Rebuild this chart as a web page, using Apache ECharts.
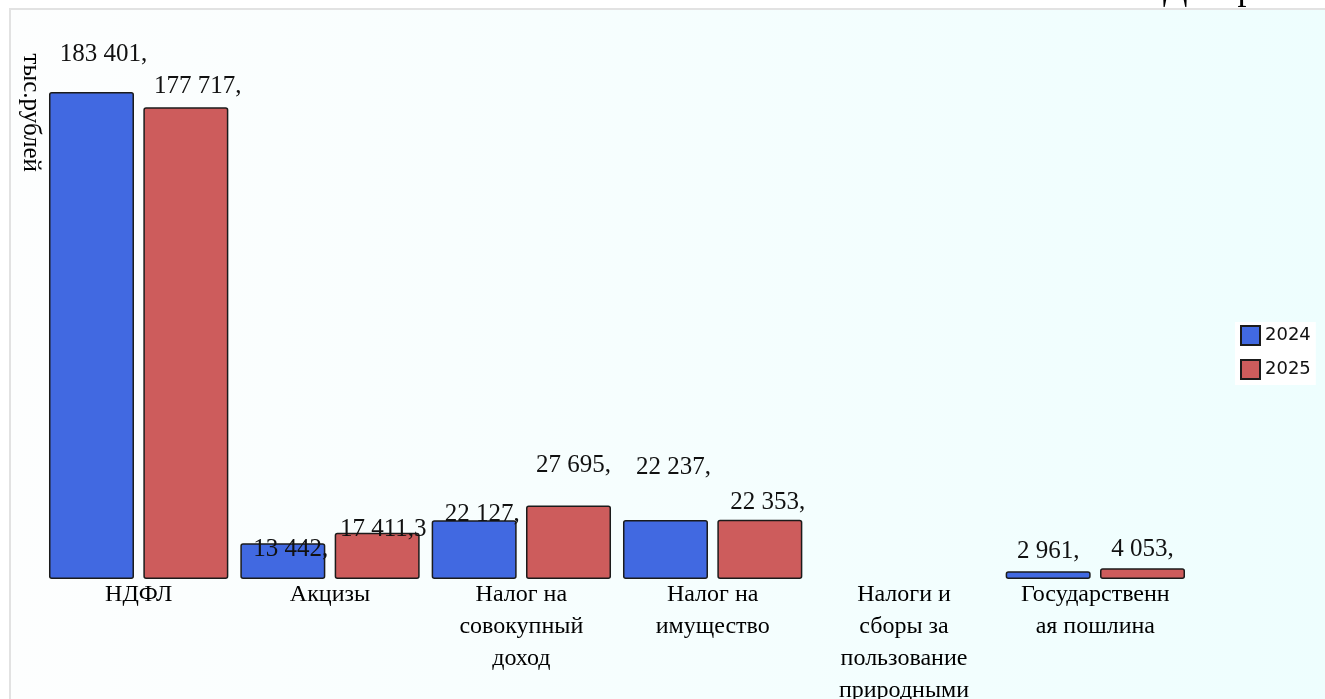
<!DOCTYPE html>
<html>
<head>
<meta charset="utf-8">
<script src="https://cdn.jsdelivr.net/npm/echarts@6/dist/echarts.min.js"></script>
<style>
  html, body { margin: 0; padding: 0; background: #fff; }
  #chart { width: 1325px; height: 699px; }
</style>
</head>
<body>
<div id="chart"></div>
<script>
const categories = ['НДФЛ', 'Акцизы', 'Налог на совокупный доход', 'Налог на имущество',
  'Налоги и сборы за пользование природными ресурсами', 'Государственная пошлина'];
const tickLabels = ['НДФЛ', 'Акцизы', 'Налог на\nсовокупный\nдоход', 'Налог на\nимущество',
  'Налоги и\nсборы за\nпользование\nприродными\nресурсами', 'Государственн\nая пошлина'];
const seriesNames = ['2024', '2025'];
const values2024 = [183401, 13442, 22127, 22237, null, 2961];
const values2025 = [177717, 17411.3, 27695, 22353, null, 4053];
const labels2024 = ['183 401,', '13 442,', '22 127,', '22 237,', '', '2 961,'];
const labels2025 = ['177 717,', '17 411,3', '27 695,', '22 353,', '', '4 053,'];

// label nudges, the original chart spreads them a bit
const nudge2024 = [[12, -20], [8, 24], [8, 12], [8, -35], [0, 0], [0, -2]];
const nudge2025 = [[12, -3], [6, 14], [5, -23], [8, 0], [0, 0], [0, -1]];

function makeSeries(name, values, labels, nudges, color) {
  return {
    name: name,
    type: 'bar',
    barWidth: 85,
    barGap: '11%',
    itemStyle: {
      color: color,
      borderColor: '#1b1b1b',
      borderWidth: 1.5,
      borderRadius: 2
    },
    label: {
      show: true,
      position: 'top',
      distance: 5,
      fontFamily: 'Liberation Serif',
      fontSize: 25,
      color: '#111',
      formatter: (p) => labels[p.dataIndex]
    },
    data: values.map((v, i) => ({ value: v, label: { offset: nudges[i] } }))
  };
}

var dom = document.getElementById('chart');
var myChart = echarts.init(dom, null, { renderer: 'canvas' });
var option = {
  backgroundColor: '#ffffff',
  animation: false,
  title: {
    text: 'Диаграмма',
    left: 1158,
    top: -33,
    textStyle: { fontFamily: 'Liberation Serif', fontSize: 36, fontWeight: 'normal', color: '#000' }
  },
  graphic: [{
    type: 'rect',
    z: -10,
    silent: true,
    shape: { x: 10, y: 9, width: 1320, height: 700 },
    style: {
      fill: new echarts.graphic.LinearGradient(0, 0, 1, 0, [
        { offset: 0, color: '#fdfefe' },
        { offset: 1, color: '#eefefe' }
      ]),
      stroke: '#e2e2e2',
      lineWidth: 2
    }
  }],
  legend: {
    orient: 'vertical',
    left: 1235,
    top: 322,
    backgroundColor: '#ffffff',
    padding: [3, 5, 5, 5],
    itemWidth: 19,
    itemHeight: 19,
    itemGap: 13,
    icon: 'rect',
    textStyle: { fontFamily: 'DejaVu Sans', fontSize: 18, color: '#111' },
    data: seriesNames
  },
  grid: { left: 43, right: 134, top: 48, bottom: 120, containLabel: false, outerBoundsMode: 'none' },
  xAxis: {
    type: 'category',
    data: categories,
    axisLine: { show: false },
    axisTick: { show: false },
    axisLabel: {
      interval: 0,
      margin: 0,
      fontFamily: 'Liberation Serif',
      fontSize: 24,
      lineHeight: 32,
      color: '#000',
      formatter: (v, i) => tickLabels[i]
    }
  },
  yAxis: {
    type: 'value',
    min: 0,
    max: 200000,
    axisLine: { show: false },
    axisTick: { show: false },
    axisLabel: { show: false },
    splitLine: { show: false },
    name: 'тыс.рублей',
    nameLocation: 'end',
    nameRotate: -90,
    nameGap: -124,
    nameTextStyle: { fontFamily: 'Liberation Serif', fontSize: 25, color: '#000', verticalAlign: 'top' }
  },
  series: [
    makeSeries(seriesNames[0], values2024, labels2024, nudge2024, '#4169e1'),
    makeSeries(seriesNames[1], values2025, labels2025, nudge2025, '#cd5c5c')
  ]
};
myChart.setOption(option);
window.addEventListener('resize', myChart.resize);
</script>
</body>
</html>
